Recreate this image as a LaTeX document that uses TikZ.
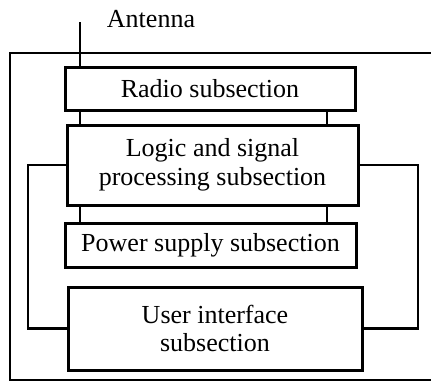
\documentclass[tikz,border=0pt]{standalone}
\usepackage{fontspec}
\setmainfont{Liberation Serif}
\usetikzlibrary{calc}
\tikzset{
	sect/.style={draw, line width=3pt, align=center, inner sep=0pt,
		font=\fontsize{26}{28.5}\selectfont},
	wire/.style={line width=2.6pt}
}

\begin{document}
\begin{tikzpicture}[x=1pt, y=-1pt]
		%%%%% START %%%%%
		\useasboundingbox (0, 0) rectangle (431, 383);
		
		\node[sect, minimum width=290, minimum height=43] (radio) at (210, 88.5) {Radio subsection};
		\node[sect, minimum width=291, minimum height=80] (logic) at (212.5, 165) {Logic and signal\\processing subsection};
		\node[sect, minimum width=291, minimum height=44] (power) at (210.5, 245) {Power supply subsection};
		\node[sect, minimum width=294, minimum height=83] (user) at (215, 328.5) {User interface\\subsection};
		
		\node[font=\fontsize{26}{28.5}\selectfont] (antlabel) at (151, 19) {Antenna};
		
		\coordinate (ant) at (80, 22);
		\coordinate (busr) at (327, 0);
		\coordinate (loopl) at (28, 0);
		\coordinate (loopr) at (418, 0);
		
		\draw[wire] (ant) -- (radio.north -| ant);
		\draw[wire] (radio.south -| ant) -- (logic.north -| ant);
		\draw[wire] (radio.south -| busr) -- (logic.north -| busr);
		\draw[wire] (logic.south -| ant) -- (power.north -| ant);
		\draw[wire] (logic.south -| busr) -- (power.north -| busr);
		
		\draw[wire] (logic.west) -- (logic.west -| loopl) |- (user.west);
		\draw[wire] (logic.east) -- (logic.east -| loopr) |- (user.east);
		
		% outer case, open past the right edge
		\draw[wire] (440, 53) -- (10, 53) -- (10, 380) -- (440, 380);
		%%%%% END %%%%%
	\end{tikzpicture}
\end{document}
